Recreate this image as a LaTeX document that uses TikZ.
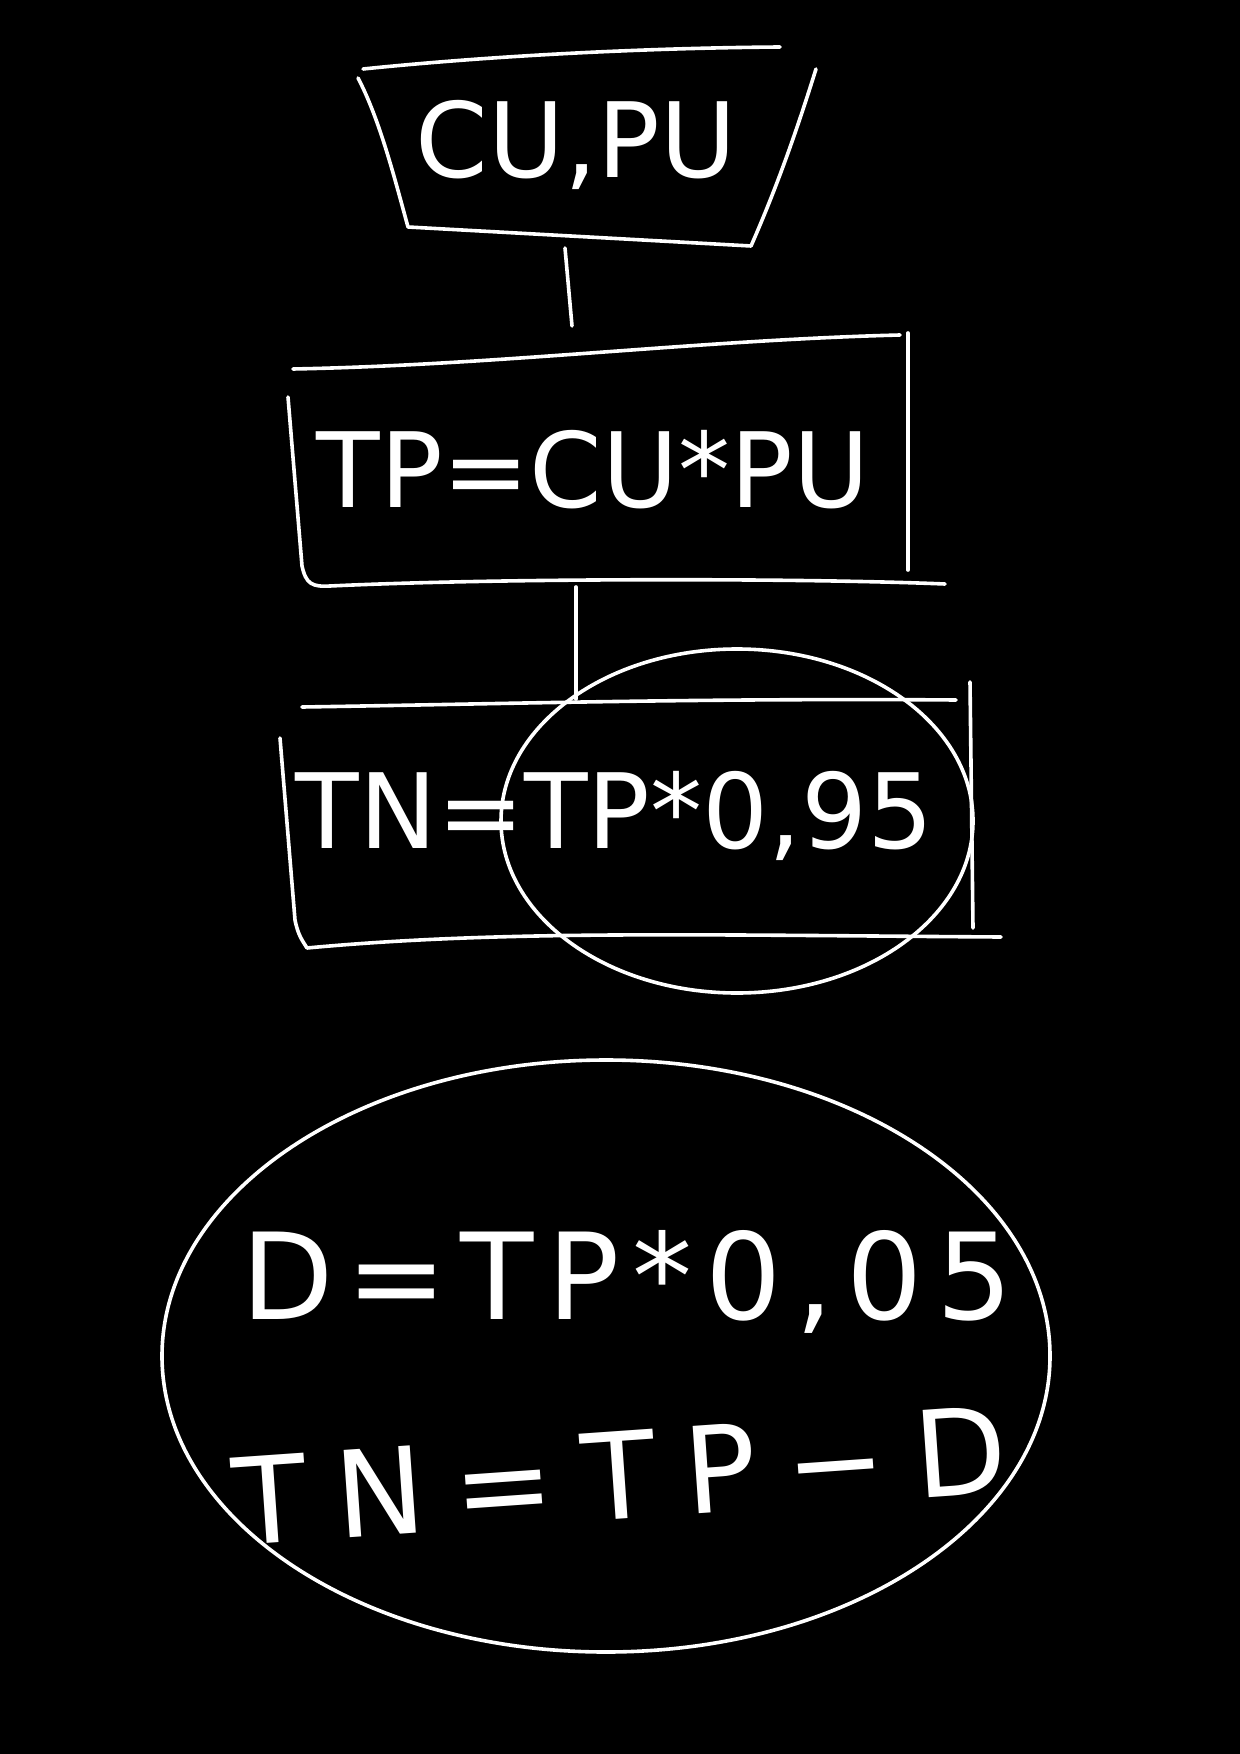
\documentclass[tikz,border=0pt]{standalone}
\usepackage{fontspec}
\setsansfont{DejaVu Sans}
\newfontfamily\handmid[LetterSpace=11]{DejaVu Sans}
\newfontfamily\handwide[LetterSpace=24]{DejaVu Sans}
\tikzset{
  ink/.style={draw=white, line width=1.8pt, line cap=round, line join=round},
  hand/.style={text=white, font=\sffamily\fontsize{52}{60}\selectfont, inner sep=0pt},
  handbig/.style={text=white, font=\handmid\fontsize{60}{70}\selectfont, inner sep=0pt},
  handbigw/.style={text=white, font=\handwide\fontsize{60}{70}\selectfont, inner sep=0pt},
}
\begin{document}
\begin{tikzpicture}[x=0.5pt,y=-0.5pt]
\fill[black] (0,0) rectangle (1240,1754);
\useasboundingbox (0,0) rectangle (1240,1754);
% trapezoid
\draw[ink] (363,69) .. controls (500,55) and (650,48) .. (780,47);
\draw[ink] (358,78) .. controls (380,120) and (395,180) .. (408,227) -- (751,246) .. controls (780,180) and (800,120) .. (816,69);
\node[hand] (in) at (576,145) {CU,PU};
% rectangle 1
\draw[ink] (293,369) .. controls (500,365) and (700,340) .. (900,335);
\draw[ink] (288,397) -- (302,566) .. controls (306,584) and (312,587) .. (330,586) .. controls (500,578) and (800,578) .. (945,584);
\draw[ink] (908,333) -- (908,570);
\node[hand] (tp) at (593,470) {TP=CU*PU};
% rectangle 2
\draw[ink] (302,707) .. controls (500,704) and (700,698) .. (956,700);
\draw[ink] (280,738) -- (295,920) .. controls (298,935) and (302,940) .. (307,948);
\draw[ink] (307,948) .. controls (500,930) and (700,935) .. (1001,937);
\draw[ink] (970,682) -- (973,928);
\node[hand] (tn) at (615,816) {TN=TP*0,95};
\draw[ink] (737,821) ellipse [x radius=236, y radius=172];
% connectors
\coordinate (a1) at (565,248);
\coordinate (a2) at (572,326);
\coordinate (b1) at (576,587);
\coordinate (b2) at (576,699);
\draw[ink] (a1) -- (a2);
\draw[ink] (b1) -- (b2);
% big ellipse
\draw[ink] (606,1356) ellipse [x radius=444, y radius=296];
\node[handbig] (d) at (627,1282) {D=TP*0,05};
\node[handbigw, rotate=4] (tn2) at (620,1475) {TN=TP−D};
\end{tikzpicture}
\end{document}
